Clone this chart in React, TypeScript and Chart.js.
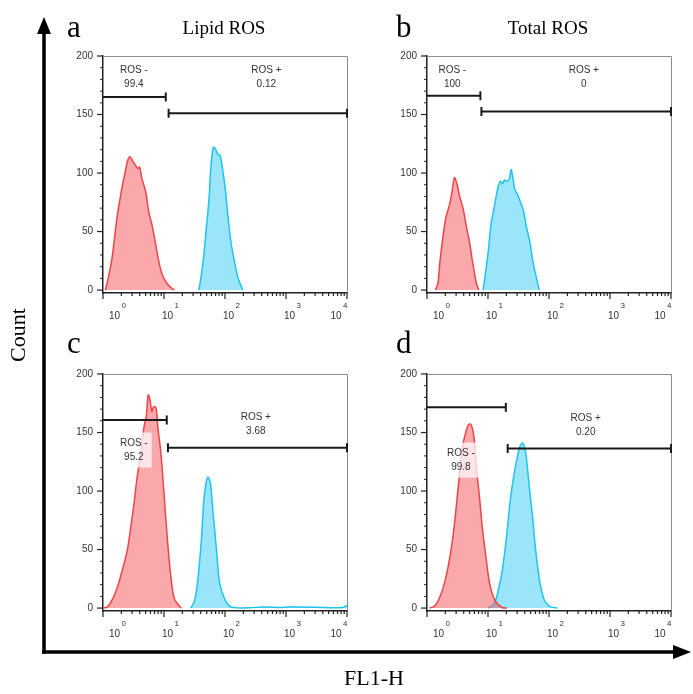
import React, { useEffect, useRef } from 'react';
import { Chart, registerables } from 'chart.js';
Chart.register(...registerables);

// ---------- axis ticks ----------
const xTickExponents = [0, 1, 2, 3, 4];
const yTickValues = [0, 50, 100, 150, 200];
const yMinorValues = [10, 20, 30, 40, 60, 70, 80, 90, 110, 120, 130, 140, 160, 170, 180, 190];

// ---------- panel a : Lipid ROS ----------
const aRedLogX = [0.04, 0.09, 0.15, 0.23, 0.31, 0.36, 0.40, 0.44, 0.49, 0.53, 0.57, 0.60, 0.64, 0.70, 0.75, 0.81, 0.86, 0.92, 0.98, 1.06, 1.14, 1.17];
const aRedCount = [0, 11, 28, 62, 87, 100, 110, 114, 110, 107, 104, 105, 95, 84, 67, 54, 40, 23, 12, 5, 1, 0];
const aBlueLogX = [1.57, 1.61, 1.65, 1.69, 1.74, 1.77, 1.81, 1.85, 1.88, 1.92, 1.97, 2.01, 2.05, 2.10, 2.16, 2.21, 2.29];
const aBlueCount = [0, 12, 28, 51, 79, 106, 122, 120, 116, 115, 100, 84, 62, 40, 23, 11, 0];
const aGateNames = ['ROS -', 'ROS +'];
const aGatePercents = ['99.4', '0.12'];
const aGateFrom = [1, 11.9];
const aGateTo = [10.7, 10000];
const aGateLevel = [165, 151];

// ---------- panel b : Total ROS ----------
const bRedLogX = [0.14, 0.18, 0.21, 0.26, 0.31, 0.37, 0.41, 0.45, 0.49, 0.53, 0.59, 0.64, 0.70, 0.75, 0.81, 0.85];
const bRedCount = [0, 6, 23, 45, 62, 73, 84, 96, 91, 81, 70, 56, 40, 23, 6, 0];
const bBlueLogX = [0.92, 0.96, 1.0, 1.05, 1.11, 1.16, 1.20, 1.24, 1.27, 1.31, 1.35, 1.38, 1.40, 1.44, 1.48, 1.52, 1.58, 1.63, 1.69, 1.74, 1.80, 1.84];
const bBlueCount = [0, 15, 31, 56, 73, 87, 93, 91, 94, 93, 95, 103, 98, 86, 82, 77, 68, 54, 40, 23, 9, 0];
const bGateNames = ['ROS -', 'ROS +'];
const bGatePercents = ['100', '0'];
const bGateFrom = [1, 7.8];
const bGateTo = [7.5, 10000];
const bGateLevel = [166, 152.5];

// ---------- panel c ----------
const cRedLogX = [0, 0.07, 0.15, 0.23, 0.31, 0.40, 0.45, 0.51, 0.56, 0.62, 0.67, 0.71, 0.74, 0.77, 0.80, 0.83, 0.87, 0.90, 0.95, 1.0, 1.06, 1.11, 1.17, 1.28];
const cRedCount = [0, 1, 7, 17, 31, 50, 67, 90, 112, 132, 154, 164, 182, 178, 168, 172, 171, 154, 132, 98, 56, 28, 8, 0];
const cBlueLogX = [1.44, 1.50, 1.55, 1.61, 1.65, 1.69, 1.72, 1.76, 1.80, 1.86, 1.91, 2.0, 2.08, 2.19, 2.4, 2.6, 2.75, 2.9, 3.05, 3.2, 3.4, 3.6, 3.8, 3.93, 3.97, 4.0];
const cBlueCount = [0, 6, 22, 56, 90, 107, 112, 107, 84, 50, 22, 7, 1.5, 0.3, 0.2, 1, 0.8, 0.4, 1, 1, 0.8, 0.5, 0.3, 0.4, 1.5, 2.5];
const cGateNames = ['ROS -', 'ROS +'];
const cGatePercents = ['95.2', '3.68'];
const cGateFrom = [1, 11.6];
const cGateTo = [11.1, 10000];
const cGateLevel = [160.7, 137];

// ---------- panel d ----------
const dRedLogX = [0.04, 0.12, 0.20, 0.29, 0.37, 0.44, 0.49, 0.54, 0.59, 0.64, 0.68, 0.72, 0.77, 0.81, 0.86, 0.91, 0.97, 1.03, 1.12, 1.23, 1.31];
const dRedCount = [0, 1.5, 8, 22, 42, 67, 92, 118, 140, 151, 157, 157, 146, 120, 95, 67, 42, 20, 6, 0.5, 0];
const dBlueLogX = [1.0, 1.09, 1.15, 1.23, 1.30, 1.36, 1.42, 1.48, 1.53, 1.57, 1.62, 1.67, 1.73, 1.78, 1.85, 1.93, 2.03, 2.14];
const dBlueCount = [0, 3, 11, 31, 59, 90, 112, 129, 139, 141, 132, 107, 78, 50, 22, 6, 1, 0];
const dGateNames = ['ROS -', 'ROS +'];
const dGatePercents = ['99.8', '0.20'];
const dGateFrom = [1, 21];
const dGateTo = [19.6, 10000];
const dGateLevel = [171.5, 136.4];

// ---------- layout (label anchors: x value, y value of first line) ----------
type LabelAnchor = { x: number; y: number; bg: boolean };
const aLabelAt: LabelAnchor[] = [{ x: 3.2, y: 188, bg: false }, { x: 476, y: 188, bg: false }];
const bLabelAt: LabelAnchor[] = [{ x: 2.6, y: 188, bg: false }, { x: 372, y: 188, bg: false }];
const cLabelAt: LabelAnchor[] = [{ x: 3.2, y: 140.6, bg: true }, { x: 320, y: 163, bg: false }];
const dLabelAt: LabelAnchor[] = [{ x: 3.6, y: 132, bg: true }, { x: 400, y: 162, bg: false }];

const RED_LINE = 'rgb(238,68,72)';
const RED_FILL = 'rgba(244,84,88,0.5)';
const BLUE_LINE = 'rgb(30,196,238)';
const BLUE_FILL = 'rgba(40,200,245,0.47)';
const SANS = '"Liberation Sans", Arial, sans-serif';
const SERIF = '"Liberation Serif", "Times New Roman", serif';

const toPoints = (logX: number[], counts: number[]) =>
  logX.map((lx, i) => ({ x: Math.pow(10, lx), y: counts[i] }));

type Gate = { name: string; pct: string; from: number; to: number; level: number; label: LabelAnchor };

const makeGates = (names: string[], pcts: string[], from: number[], to: number[], level: number[], labels: LabelAnchor[]): Gate[] =>
  names.map((n, i) => ({ name: n, pct: pcts[i], from: from[i], to: to[i], level: level[i], label: labels[i] }));

const decorPlugin = {
  id: 'panelDecor',
  afterDraw(chart: any, _args: any, opts: any) {
    const { ctx, chartArea: ca } = chart;
    const x = chart.scales.x;
    const y = chart.scales.y;
    ctx.save();
    // top & right frame
    ctx.strokeStyle = '#8c8c8c';
    ctx.lineWidth = 1;
    ctx.beginPath();
    ctx.moveTo(ca.left, Math.round(ca.top) + 0.5);
    ctx.lineTo(Math.round(ca.right) + 0.5, Math.round(ca.top) + 0.5);
    ctx.lineTo(Math.round(ca.right) + 0.5, ca.bottom);
    ctx.stroke();

    // x ticks
    ctx.strokeStyle = '#222';
    ctx.lineWidth = 1.2;
    const axisY = ca.bottom;
    xTickExponents.forEach((e, idx) => {
      const px = x.getPixelForValue(Math.pow(10, e));
      ctx.beginPath();
      ctx.moveTo(px, axisY);
      ctx.lineTo(px, axisY + 6);
      ctx.stroke();
      if (idx < xTickExponents.length - 1) {
        for (let k = 2; k <= 9; k++) {
          const mx = x.getPixelForValue(k * Math.pow(10, e));
          ctx.beginPath();
          ctx.moveTo(mx, axisY);
          ctx.lineTo(mx, axisY + 3);
          ctx.stroke();
        }
      }
      // label 10^e
      ctx.fillStyle = '#333';
      ctx.font = `10px ${SANS}`;
      ctx.textBaseline = 'alphabetic';
      ctx.textAlign = 'left';
      const baseW = ctx.measureText('10').width;
      ctx.font = `8px ${SANS}`;
      const expW = ctx.measureText(String(e)).width;
      let left = px - 2;
      if (idx === 0) left = px + 6;
      if (idx === xTickExponents.length - 1) left = px - baseW - expW - 1;
      ctx.font = `10px ${SANS}`;
      ctx.fillText('10', left, axisY + 26);
      ctx.font = `8px ${SANS}`;
      ctx.fillText(String(e), left + baseW + 1.5, axisY + 15);
    });

    // y ticks
    ctx.strokeStyle = '#222';
    ctx.lineWidth = 1.2;
    yTickValues.forEach((v) => {
      const py = y.getPixelForValue(v);
      ctx.beginPath();
      ctx.moveTo(ca.left, py);
      ctx.lineTo(ca.left - 6, py);
      ctx.stroke();
    });
    ctx.lineWidth = 1;
    yMinorValues.forEach((v) => {
      const py = y.getPixelForValue(v);
      ctx.beginPath();
      ctx.moveTo(ca.left, py);
      ctx.lineTo(ca.left - 3, py);
      ctx.stroke();
    });

    // gates
    const gates: Gate[] = opts.gates || [];
    gates.forEach((g) => {
      const x1 = x.getPixelForValue(g.from);
      const x2 = x.getPixelForValue(g.to);
      const gy = y.getPixelForValue(g.level);
      ctx.strokeStyle = '#1a1a1a';
      ctx.lineWidth = 2;
      ctx.beginPath();
      ctx.moveTo(x1, gy);
      ctx.lineTo(x2, gy);
      ctx.stroke();
      ctx.beginPath();
      if (g.from > x.min * 1.02) {
        ctx.moveTo(x1, gy - 4.5);
        ctx.lineTo(x1, gy + 4.5);
      }
      ctx.moveTo(x2, gy - 4.5);
      ctx.lineTo(x2, gy + 4.5);
      ctx.stroke();

      const lx = x.getPixelForValue(g.label.x);
      const ly = y.getPixelForValue(g.label.y);
      ctx.font = `10px ${SANS}`;
      ctx.textAlign = 'center';
      ctx.textBaseline = 'middle';
      if (g.label.bg) {
        const w = Math.max(ctx.measureText(g.name).width, ctx.measureText(g.pct).width) + 8;
        ctx.fillStyle = 'rgba(255,255,255,0.72)';
        ctx.fillRect(lx - w / 2, ly - 11, w, 35);
      }
      ctx.fillStyle = '#333';
      ctx.fillText(g.name, lx, ly);
      ctx.fillText(g.pct, lx, ly + 14);
    });
    ctx.restore();
  },
};

type PanelProps = {
  left: number;
  top: number;
  red: { x: number; y: number }[];
  blue: { x: number; y: number }[];
  gates: Gate[];
};

function Panel({ left, top, red, blue, gates }: PanelProps) {
  const ref = useRef<HTMLCanvasElement | null>(null);
  useEffect(() => {
    if (!ref.current) return;
    const chart = new Chart(ref.current, {
      type: 'line',
      data: {
        datasets: [
          {
            data: red,
            borderColor: RED_LINE,
            backgroundColor: RED_FILL,
            borderWidth: 1.5,
            fill: 'origin',
            pointRadius: 0,
            tension: 0.3,
          },
          {
            data: blue,
            borderColor: BLUE_LINE,
            backgroundColor: BLUE_FILL,
            borderWidth: 1.5,
            fill: 'origin',
            pointRadius: 0,
            tension: 0.3,
          },
        ],
      },
      options: {
        responsive: false,
        animation: false,
        layout: { padding: { top: 10, right: 11, left: 0, bottom: 0 } },
        plugins: {
          legend: { display: false },
          tooltip: { enabled: false },
          panelDecor: { gates },
        } as any,
        scales: {
          x: {
            type: 'logarithmic',
            min: 1,
            max: 10000,
            grid: { display: false },
            border: { display: true, color: '#222', width: 1.5 },
            ticks: { display: false },
            afterFit: (s: any) => {
              s.height = 47;
            },
          },
          y: {
            type: 'linear',
            min: -2.5,
            max: 200,
            grid: { display: false, drawTicks: false },
            border: { display: true, color: '#222', width: 1.5 },
            ticks: {
              color: '#333',
              padding: 10,
              font: { family: SANS, size: 10 },
            },
            afterBuildTicks: (s: any) => {
              s.ticks = yTickValues.map((v) => ({ value: v }));
            },
            afterFit: (s: any) => {
              s.width = 45;
            },
          },
        },
      },
      plugins: [decorPlugin],
    });
    return () => chart.destroy();
  }, []);
  return (
    <div style={{ position: 'absolute', left, top, width: 300, height: 300 }}>
      <canvas ref={ref} width={300} height={300} style={{ width: 300, height: 300, display: 'block' }} />
    </div>
  );
}

export default function App() {
  const panels: PanelProps[] = [
    {
      left: 58, top: 40,
      red: toPoints(aRedLogX, aRedCount), blue: toPoints(aBlueLogX, aBlueCount),
      gates: makeGates(aGateNames, aGatePercents, aGateFrom, aGateTo, aGateLevel, aLabelAt),
    },
    {
      left: 382, top: 40,
      red: toPoints(bRedLogX, bRedCount), blue: toPoints(bBlueLogX, bBlueCount),
      gates: makeGates(bGateNames, bGatePercents, bGateFrom, bGateTo, bGateLevel, bLabelAt),
    },
    {
      left: 58, top: 358,
      red: toPoints(cRedLogX, cRedCount), blue: toPoints(cBlueLogX, cBlueCount),
      gates: makeGates(cGateNames, cGatePercents, cGateFrom, cGateTo, cGateLevel, cLabelAt),
    },
    {
      left: 382, top: 358,
      red: toPoints(dRedLogX, dRedCount), blue: toPoints(dBlueLogX, dBlueCount),
      gates: makeGates(dGateNames, dGatePercents, dGateFrom, dGateTo, dGateLevel, dLabelAt),
    },
  ];
  return (
    <div style={{ position: 'absolute', left: 0, top: 0, width: 693, height: 694, background: '#fff', overflow: 'hidden' }}>
      {panels.map((p, i) => (
        <Panel key={i} {...p} />
      ))}
      <svg width={693} height={694} style={{ position: 'absolute', left: 0, top: 0, pointerEvents: 'none' }}>
        <line x1={44} y1={30} x2={44} y2={653.75} stroke="#000" strokeWidth={3.5} />
        <polygon points="44,17 37,34 51,34" fill="#000" />
        <line x1={42.25} y1={652} x2={676} y2={652} stroke="#000" strokeWidth={3.5} />
        <polygon points="691,652 673,645 673,659" fill="#000" />
        <text transform="translate(25,335) rotate(-90)" textAnchor="middle" fontFamily={SERIF} fontSize={22}>Count</text>
        <text x={374} y={685} textAnchor="middle" fontFamily={SERIF} fontSize={22}>FL1-H</text>
        <text x={67} y={37} fontFamily={SERIF} fontSize={31}>a</text>
        <text x={396} y={37} fontFamily={SERIF} fontSize={31}>b</text>
        <text x={67} y={353} fontFamily={SERIF} fontSize={31}>c</text>
        <text x={396} y={353} fontFamily={SERIF} fontSize={31}>d</text>
        <text x={224} y={34} textAnchor="middle" fontFamily={SERIF} fontSize={19}>Lipid ROS</text>
        <text x={548} y={34} textAnchor="middle" fontFamily={SERIF} fontSize={19}>Total ROS</text>
      </svg>
    </div>
  );
}
